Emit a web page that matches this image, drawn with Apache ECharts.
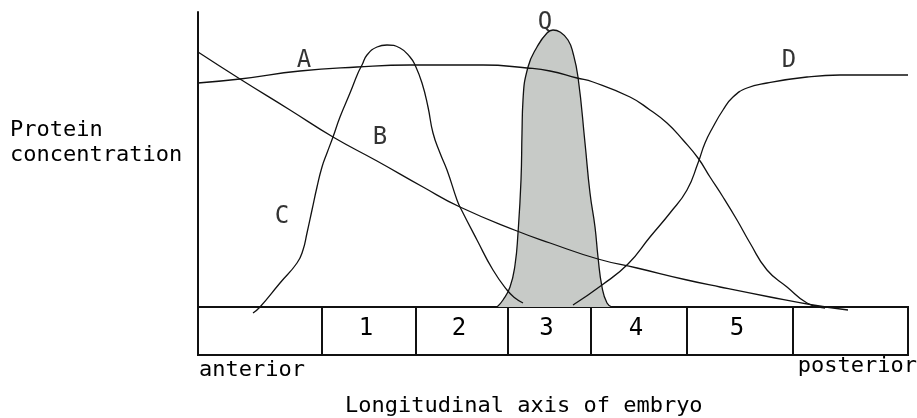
<!DOCTYPE html>
<html>
<head>
<meta charset="utf-8">
<title>Protein concentration along embryo</title>
<script src="https://cdn.jsdelivr.net/npm/echarts@6/dist/echarts.min.js"></script>
<style>
    html, body { margin: 0; padding: 0; background: #fff; }
    #chart { width: 917px; height: 418px; }
</style>
</head>
<body>
<div id="chart"></div>
<script>
    // position along the embryo (0 = anterior end of the box, 710 = posterior end)
    // and concentration (0 = top of the segment box)
    var aX = [0, 42, 102, 159, 212, 285, 329, 352, 379, 395, 432, 452, 469, 485, 500, 512, 525, 539, 552, 569, 589, 609, 627];
    var aY = [224, 228, 236, 240, 242, 242, 239, 236, 229, 225, 210, 197, 184, 167, 149, 130, 110, 87, 64, 37, 20, 4, -1];

    var bX = [0, 42, 92, 135, 179, 225, 262, 319, 352, 400, 439, 489, 522, 572, 615, 650];
    var bY = [255, 228, 197, 170, 146, 120, 100, 76, 64, 48, 39, 27, 20, 10, 2, -3];

    var cX = [55, 62, 82, 99, 105, 109, 114, 119, 124, 129, 135, 142, 152, 160, 164, 169, 179, 189, 202, 212, 217, 224, 230, 235, 242, 249, 259, 262, 279, 295, 309, 317, 325];
    var cY = [-6, 0, 24, 44, 57, 74, 97, 120, 140, 154, 170, 190, 214, 234, 242, 252, 260, 262, 259, 250, 242, 224, 200, 174, 154, 137, 107, 100, 67, 37, 17, 9, 4];

    var dX = [375, 404, 430, 452, 472, 489, 500, 507, 515, 525, 535, 549, 569, 609, 642, 710];
    var dY = [2, 22, 43, 70, 94, 117, 144, 164, 180, 197, 210, 219, 224, 230, 232, 232];

    var qX = [299, 305, 312, 317, 320, 323, 324, 325, 330, 339, 349, 355, 362, 370, 375, 380, 387, 392, 397, 400, 404, 409, 414];
    var qY = [0, 7, 20, 42, 74, 127, 174, 207, 240, 260, 274, 277, 275, 267, 254, 230, 164, 114, 80, 50, 20, 4, 0];

    // segment box: boundaries and the number in each cell
    var segEdges = [0, 124, 218, 310, 393, 489, 595, 710];
    var segNames = ['', '1', '2', '3', '4', '5', ''];
    var boxDepth = -48;

    // curve letters
    var tagNames = ['A', 'B', 'C', 'Q', 'D'];
    var tagX = [106, 182, 84, 347, 591];
    var tagY = [246, 169, 90, 284, 246];

    var FONT = '"DejaVu Sans Mono", "Liberation Mono", monospace';
    var INK = '#111';

    function zip(xs, ys) {
        var out = [];
        for (var i = 0; i < xs.length; i++) out.push([xs[i], ys[i]]);
        return out;
    }

    function curve(name, xs, ys, extra) {
        var s = {
            name: name,
            type: 'line',
            data: zip(xs, ys),
            symbol: 'none',
            smooth: 0.5,
            lineStyle: {color: INK, width: 1.3},
            silent: true
        };
        if (extra) s.areaStyle = extra;
        return s;
    }

    var segData = [];
    for (var i = 0; i < segNames.length; i++) {
        segData.push([segEdges[i], segEdges[i + 1], segNames[i]]);
    }

    var chart = echarts.init(document.getElementById('chart'));
    var option = {
        animation: false,
        backgroundColor: '#fff',
        grid: {left: 198, right: 9, top: 12, bottom: 63},
        xAxis: {type: 'value', min: 0, max: 710, show: false},
        yAxis: {
            type: 'value', min: boxDepth, max: 295,
            axisLine: {show: true, lineStyle: {color: INK, width: 2}},
            axisTick: {show: false},
            axisLabel: {show: false},
            splitLine: {show: false}
        },
        graphic: [
            {type: 'text', left: 10, top: 119, style: {text: 'Protein', font: '22px ' + FONT, fill: '#000'}},
            {type: 'text', left: 10, top: 144, style: {text: 'concentration', font: '22px ' + FONT, fill: '#000'}},
            {type: 'text', left: 199, top: 359, style: {text: 'anterior', font: '22px ' + FONT, fill: '#000'}},
            {type: 'text', right: 0, top: 355, style: {text: 'posterior', font: '22px ' + FONT, fill: '#000'}},
            {type: 'text', left: 345, top: 395, style: {text: 'Longitudinal axis of embryo', font: '22px ' + FONT, fill: '#000'}}
        ],
        series: [
            curve('Q', qX, qY, {color: '#c7cac7', opacity: 1}),
            curve('A', aX, aY),
            curve('B', bX, bY),
            curve('C', cX, cY),
            curve('D', dX, dY),
            {
                type: 'custom',
                silent: true,
                data: segData,
                renderItem: function (params, api) {
                    var p0 = api.coord([api.value(0), 0]);
                    var p1 = api.coord([api.value(1), boxDepth]);
                    var mid = api.coord([(api.value(0) + api.value(1)) / 2 - 3, -21.5]);
                    return {
                        type: 'group',
                        children: [
                            {
                                type: 'rect',
                                shape: {x: p0[0], y: p0[1], width: p1[0] - p0[0], height: p1[1] - p0[1]},
                                style: {fill: 'rgba(0,0,0,0)', stroke: INK, lineWidth: 2}
                            },
                            {
                                type: 'text',
                                x: mid[0], y: mid[1],
                                style: {
                                    text: segNames[params.dataIndex],
                                    font: '24px ' + FONT,
                                    fill: '#000',
                                    align: 'center',
                                    verticalAlign: 'middle'
                                }
                            }
                        ]
                    };
                }
            },
            {
                type: 'scatter',
                silent: true,
                symbolSize: 0,
                data: zip(tagX, tagY),
                label: {
                    show: true,
                    position: 'inside',
                    formatter: function (p) { return tagNames[p.dataIndex]; },
                    fontFamily: FONT,
                    fontSize: 24,
                    color: '#000'
                }
            }
        ]
    };
    chart.setOption(option);
</script>
</body>
</html>
